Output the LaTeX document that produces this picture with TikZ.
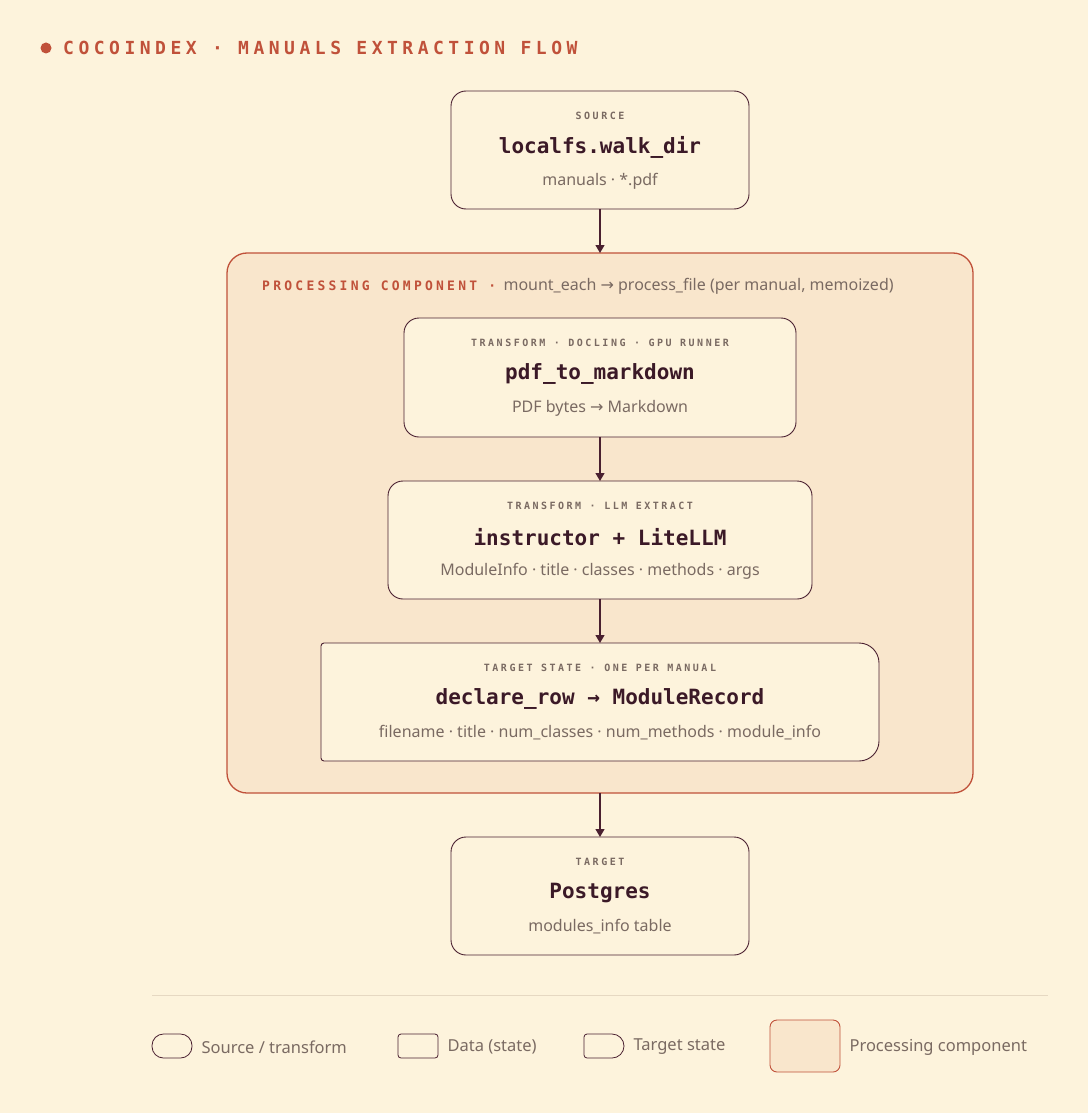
\documentclass[tikz,border=0pt]{standalone}
\usetikzlibrary{arrows.meta}
\usepackage{fontspec}
\setmainfont{Noto Sans}
\newfontfamily\mono{DejaVu Sans Mono}
\newfontfamily\spmono[LetterSpace=25]{DejaVu Sans Mono}
\newfontfamily\arr{DejaVu Sans}
\definecolor{bg}{HTML}{FDF3DC}
\definecolor{panel}{HTML}{F9E6CC}
\definecolor{ink}{HTML}{4A2030}
\definecolor{org}{HTML}{C0513A}
\definecolor{gry}{HTML}{7A6A62}
\definecolor{rule}{HTML}{E6D8C2}
\begin{document}
\begin{tikzpicture}[x=1pt,y=-1pt,
  box/.style={draw=ink,line width=0.9pt,fill=bg},
  lab/.style={font=\spmono\bfseries\fontsize{10}{12}\selectfont,text=gry},
  ttl/.style={font=\mono\bfseries\fontsize{21}{24}\selectfont,text=ink!80!black},
  sub/.style={font=\fontsize{16}{19}\selectfont,text=gry},
  arw/.style={draw=ink,line width=1.2pt,-{Triangle[length=8pt,width=9pt]}},
  leg/.style={font=\fontsize{16.5}{19}\selectfont,text=gry,anchor=west}]
\useasboundingbox[fill=bg] (0,0) rectangle (1088,1113);
% title
\fill[org] (46,48) circle (5.5);
\node[anchor=west,inner sep=0,text=org,font=\spmono\bfseries\fontsize{18}{20}\selectfont] (title) at (63,48) {COCOINDEX · MANUALS EXTRACTION FLOW};
% panel
\draw[draw=org,line width=1.3pt,fill=panel,rounded corners=20] (227,253) rectangle (973,793);
\node[anchor=west,inner sep=0,text=org,font=\spmono\bfseries\fontsize{13}{15}\selectfont] (plab) at (262,286) {PROCESSING COMPONENT ·};
\node[anchor=west,inner sep=0,text=gry,font=\fontsize{16}{19}\selectfont] (pdesc) at (plab.east) {\hspace{7pt}mount\_each {\arr→} process\_file (per manual, memoized)};
% source
\draw[box,rounded corners=15] (451,91) rectangle (749,209);
\coordinate (srcT) at (600,91); \coordinate (srcB) at (600,209);
\node[lab] (s1) at (600,116) {SOURCE};
\node[ttl] (s2) at (600,147) {localfs.walk\_dir};
\node[sub] (s3) at (600,181) {manuals · *.pdf};
% pdf
\draw[box,rounded corners=15] (404,318) rectangle (796,437);
\coordinate (pT) at (600,318); \coordinate (pB) at (600,437);
\node[lab] (p1) at (600,343) {TRANSFORM · DOCLING · GPU RUNNER};
\node[ttl] (p2) at (600,374) {pdf\_to\_markdown};
\node[sub] (p3) at (600,408) {PDF bytes {\arr→} Markdown};
% instructor
\draw[box,rounded corners=15] (388,481) rectangle (812,599);
\coordinate (iT) at (600,481); \coordinate (iB) at (600,599);
\node[lab] (i1) at (600,506) {TRANSFORM · LLM EXTRACT};
\node[ttl] (i2) at (600,537) {instructor + LiteLLM};
\node[sub] (i3) at (600,571) {ModuleInfo · title · classes · methods · args};
% declare
\draw[box] (324,643) -- (859,643) arc[start angle=-90,end angle=0,radius=20] -- (879,741) arc[start angle=0,end angle=90,radius=20] -- (324,761) arc[start angle=90,end angle=180,radius=3] -- (321,646) arc[start angle=180,end angle=270,radius=3] -- cycle;
\coordinate (dT) at (600,643); \coordinate (dB) at (600,761);
\node[lab] (d1) at (600,668) {TARGET STATE · ONE PER MANUAL};
\node[ttl] (d2) at (600,699) {declare\_row {\mono→} ModuleRecord};
\node[sub] (d3) at (600,733) {filename · title · num\_classes · num\_methods · module\_info};
% postgres
\draw[box,rounded corners=15] (451,837) rectangle (749,955);
\coordinate (gT) at (600,837);
\coordinate (panB) at (600,793); \coordinate (panT) at (600,253);
\node[lab] (g1) at (600,862) {TARGET};
\node[ttl] (g2) at (600,893) {Postgres};
\node[sub] (g3) at (600,927) {modules\_info table};
% arrows
\draw[arw] (srcB) -- (panT);
\draw[arw] (pB) -- (iT);
\draw[arw] (iB) -- (dT);
\draw[arw] (panB) -- (gT);
% rule
\draw[rule,line width=1pt] (152,995) -- (1048,995);
% legend
\draw[box,line width=0.8pt,rounded corners=11.5] (152,1034) rectangle (192,1058);
\node[leg] (l1) at (198,1047) {Source / transform};
\draw[box,line width=0.8pt,rounded corners=3] (398,1034) rectangle (438,1058);
\node[leg] (l2) at (444,1047) {Data (state)};
\draw[box,line width=0.8pt] (587,1034) -- (612,1034) arc[start angle=-90,end angle=0,radius=12] arc[start angle=0,end angle=90,radius=12] -- (587,1058) arc[start angle=90,end angle=180,radius=3] -- (584,1037) arc[start angle=180,end angle=270,radius=3] -- cycle;
\node[leg] (l3) at (630,1047) {Target state};
\draw[draw=org,line width=0.9pt,fill=panel,rounded corners=7] (770,1020) rectangle (840,1072);
\node[leg] (l4) at (846,1047) {Processing component};
\end{tikzpicture}
\end{document}
